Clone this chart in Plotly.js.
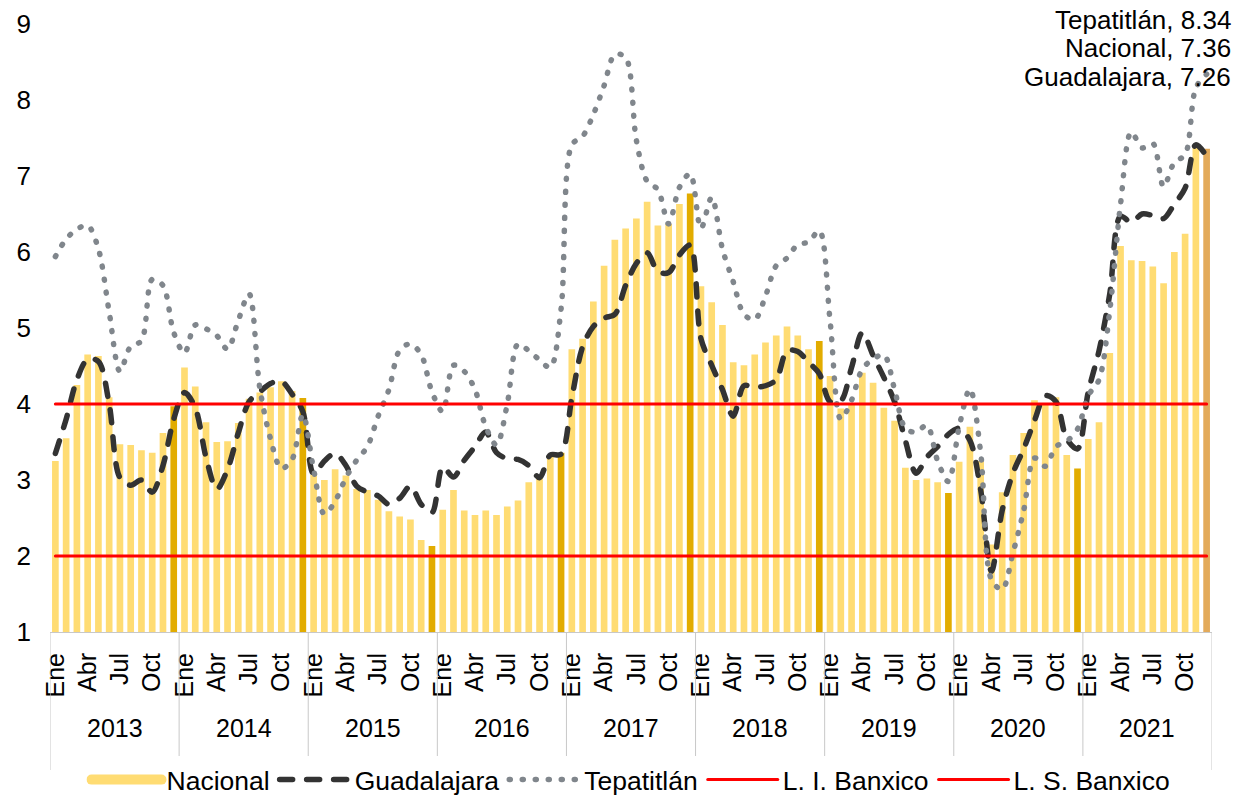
<!DOCTYPE html>
<html><head><meta charset="utf-8">
<script src="https://cdn.plot.ly/plotly-3.0.1.min.js"></script>
<style>
html,body{margin:0;padding:0;background:#fff;}
#chart{width:1244px;height:795px;}
.js-line{stroke-linecap:round;}
</style></head><body><div id="chart"></div>
<script>
// ---- data ----
const years = ['2013','2014','2015','2016','2017','2018','2019','2020','2021'];
const monthNames = ['Ene','Feb','Mar','Abr','May','Jun','Jul','Ago','Sep','Oct','Nov','Dic'];
const shownMonths = ['Ene','Abr','Jul','Oct'];

const nacional = [
  3.25,3.55,4.25,4.65,4.63,4.09,3.47,3.46,3.39,3.36,3.62,3.97,
  4.48,4.23,3.76,3.50,3.51,3.75,4.07,4.15,4.22,4.30,4.17,4.08,
  3.07,3.00,3.14,3.06,2.88,2.87,2.74,2.59,2.52,2.48,2.21,2.13,
  2.61,2.87,2.60,2.54,2.60,2.54,2.65,2.73,2.97,3.06,3.31,3.36,
  4.72,4.86,5.35,5.82,6.16,6.31,6.44,6.66,6.35,6.37,6.63,6.77,
  5.55,5.34,5.04,4.55,4.51,4.65,4.81,4.90,5.02,4.90,4.72,4.83,
  4.37,3.94,4.00,4.41,4.28,3.95,3.78,3.16,3.00,3.02,2.97,2.83,
  3.24,3.70,3.25,2.15,2.84,3.33,3.62,4.05,4.01,4.09,3.33,3.15,
  3.54,3.76,4.67,6.08,5.89,5.88,5.81,5.59,6.00,6.24,7.37,7.36
];
const guadalajara = [
  3.35,3.80,4.32,4.59,4.56,4.00,3.03,2.93,3.00,2.84,3.19,3.80,
  4.15,3.95,3.30,2.88,3.14,3.62,4.03,4.16,4.27,4.30,4.13,3.90,
  3.08,3.25,3.35,3.19,2.92,2.84,2.79,2.68,2.76,2.92,2.68,2.57,
  3.17,3.04,3.26,3.44,3.63,3.36,3.28,3.27,3.19,3.03,3.33,3.34,
  4.08,4.75,5.02,5.13,5.18,5.56,5.85,5.99,5.74,5.73,5.96,6.09,
  4.86,4.51,4.19,3.84,4.24,4.22,4.24,4.32,4.70,4.69,4.55,4.40,
  4.03,4.04,4.48,4.94,4.64,4.35,4.03,3.52,3.09,3.30,3.44,3.60,
  3.68,3.52,2.87,1.80,2.60,3.09,3.41,3.78,4.11,4.03,3.54,3.41,
  4.16,4.70,5.45,6.47,6.39,6.50,6.48,6.44,6.63,6.84,7.41,7.26
];
const tepatitlan = [
  5.94,6.17,6.30,6.35,6.04,5.21,4.43,4.76,4.83,5.64,5.56,4.94,
  4.67,5.04,4.99,4.90,4.72,5.10,5.45,4.21,3.54,3.15,3.27,3.86,
  3.14,2.55,2.72,3.03,3.26,3.44,3.84,4.19,4.71,4.79,4.65,4.16,
  3.90,4.51,4.43,4.19,3.70,3.46,4.00,4.79,4.70,4.58,4.48,5.25,
  7.41,7.52,7.81,8.19,8.60,8.56,7.47,6.93,6.82,6.37,6.85,7.03,
  6.31,6.72,6.04,5.61,5.18,5.11,5.42,5.82,5.92,6.10,6.13,6.28,
  5.10,3.80,4.05,4.46,4.59,4.65,4.19,3.68,3.63,3.72,3.25,2.98,
  3.70,4.20,3.36,1.69,1.56,2.04,2.60,3.29,3.18,3.44,3.51,3.67,
  4.11,4.32,5.23,6.63,7.58,7.37,7.43,6.86,7.18,7.28,8.16,8.34
];
const limiteInferior = 2;   // L. I. Banxico
const limiteSuperior = 4;   // L. S. Banxico
const labelNames = ['Tepatitlán','Nacional','Guadalajara'];

// ---- build ----
const n = nacional.length;
const xs = nacional.map((_, i) => i);
const monthOf = i => monthNames[i % 12];
const tickVals = xs.filter(i => shownMonths.includes(monthOf(i)));
const tickText = tickVals.map(monthOf);

const cLight = '#FFDC73', cDec = '#E2AC00', cLast = '#E3AA5A';
const barColors = xs.map(i => i === n - 1 ? cLast : (i % 12 === 11 ? cDec : cLight));

const FONT = 'Liberation Sans, Arial, sans-serif';

const traces = [
  // legend entry for the Nacional bars (wide swatch like the original)
  {type:'scatter', mode:'lines', name:'Nacional', x:[null], y:[null], legendgroup:'nac',
   line:{color:cLight, width:14}, hoverinfo:'skip'},
  {type:'bar', name:'Nacional', x:xs, y:nacional, marker:{color:barColors}, width:0.62,
   legendgroup:'nac', showlegend:false},
  {type:'scatter', mode:'lines', name:'Guadalajara', x:xs, y:guadalajara,
   line:{color:'#333333', width:5.5, dash:'13px,14px', shape:'spline', smoothing:0.9}},
  {type:'scatter', mode:'lines', name:'Tepatitlán', x:xs, y:tepatitlan,
   line:{color:'#80868C', width:5.5, dash:'1px,12px', shape:'spline', smoothing:0.9}},
  {type:'scatter', mode:'lines', name:'L. I. Banxico', x:xs, y:xs.map(() => limiteInferior),
   line:{color:'#FF0000', width:3}},
  {type:'scatter', mode:'lines', name:'L. S. Banxico', x:xs, y:xs.map(() => limiteSuperior),
   line:{color:'#FF0000', width:3}}
];

const shapes = [];
const annotations = [];
for (let k = 0; k <= years.length; k++) {
  shapes.push({type:'line', xref:'x', yref:'paper', x0:12*k-0.5, x1:12*k-0.5, y0:0, y1:-0.227,
               line:{color:'#C8C8C8', width:1}});
}
years.forEach((yr, k) => {
  annotations.push({xref:'x', yref:'paper', x:12*k+5.5, y:-0.158, text:yr, showarrow:false,
                    font:{family:FONT, size:25, color:'#000'}, xanchor:'center', yanchor:'middle'});
});
const lastVals = [tepatitlan[n-1], nacional[n-1], guadalajara[n-1]];
const labelY = [1.0066, 0.9605, 0.9128];
labelNames.forEach((nm, j) => {
  annotations.push({xref:'paper', yref:'paper', x:1.018, y:labelY[j], xanchor:'right', yanchor:'middle',
    text: nm + ', ' + lastVals[j].toFixed(2), showarrow:false,
    font:{family:FONT, size:26, color:'#000'}});
});

const layout = {
  width:1244, height:795,
  margin:{l:50, r:32, t:24, b:163, autoexpand:false},
  paper_bgcolor:'#fff', plot_bgcolor:'#fff',
  font:{family:FONT, size:25, color:'#000'},
  showlegend:true,
  legend:{orientation:'h', x:0.5, xanchor:'center', yref:'container', y:0.019, yanchor:'middle',
          font:{family:FONT, size:26.5, color:'#000'}, itemwidth:70, traceorder:'normal'},
  xaxis:{range:[-0.5, n-0.5], tickmode:'array', tickvals:tickVals, ticktext:tickText,
         tickangle:-90, showline:true, linecolor:'#C8C8C8', linewidth:1, showgrid:false,
         zeroline:false, ticks:'', tickfont:{family:FONT, size:25, color:'#000'},
         ticklabelstandoff:10, fixedrange:true, automargin:false},
  yaxis:{range:[1, 9], dtick:1, tick0:1, showgrid:false, zeroline:false, showline:false,
         ticks:'', tickfont:{family:FONT, size:26, color:'#000'}, ticklabelstandoff:18,
         fixedrange:true, automargin:false},
  shapes:shapes,
  annotations:annotations
};

Plotly.newPlot('chart', traces, layout, {displayModeBar:false, staticPlot:true});
</script></body></html>
